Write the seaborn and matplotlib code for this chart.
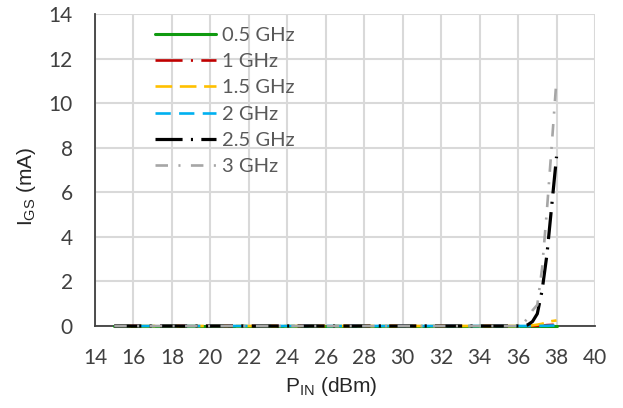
import matplotlib
matplotlib.use("Agg")
import matplotlib.pyplot as plt
from matplotlib.ticker import MultipleLocator
import seaborn as sns
import pandas as pd

# ---- data ----
pin = [15, 16, 17, 18, 19, 20, 21, 22, 23, 24, 25, 26, 27, 28, 29, 30,
       31, 32, 33, 34, 35, 36, 36.25, 36.5, 36.75, 37, 37.25, 37.5, 37.75, 38]
igs_05 = [0.0, 0.0, 0.0, 0.0, 0.0, 0.0, 0.0, 0.0, 0.0, 0.0, 0.0, 0.0, 0.0, 0.0, 0.0, 0.0,
          0.0, 0.0, 0.0, 0.0, 0.0, 0.0, 0.0, 0.0, 0.0, 0.0, 0.0, 0.0, 0.0, 0.0]
igs_1 = [0.0, 0.0, 0.0, 0.0, 0.0, 0.0, 0.0, 0.0, 0.0, 0.0, 0.0, 0.0, 0.0, 0.0, 0.0, 0.0,
         0.0, 0.0, 0.0, 0.0, 0.0, 0.0, 0.0, 0.0, 0.0, 0.01, 0.02, 0.04, 0.05, 0.06]
igs_15 = [0.0, 0.0, 0.0, 0.0, 0.0, 0.0, 0.0, 0.0, 0.0, 0.0, 0.0, 0.0, 0.0, 0.0, 0.0, 0.0,
          0.0, 0.0, 0.0, 0.0, 0.0, 0.0, 0.0, 0.01, 0.03, 0.06, 0.1, 0.17, 0.22, 0.25]
igs_2 = [0.0, 0.0, 0.0, 0.0, 0.0, 0.0, 0.0, 0.0, 0.0, 0.0, 0.0, 0.0, 0.0, 0.0, 0.0, 0.0,
         0.0, 0.0, 0.0, 0.0, 0.0, 0.0, 0.0, 0.0, 0.0, 0.0, 0.01, 0.01, 0.02, 0.02]
igs_25 = [0.0, 0.0, 0.0, 0.0, 0.0, 0.0, 0.0, 0.0, 0.0, 0.0, 0.0, 0.0, 0.0, 0.0, 0.0, 0.0,
          0.0, 0.0, 0.0, 0.0, 0.0, 0.0, 0.0, 0.05, 0.2, 0.55, 1.6, 3.2, 5.4, 7.6]
igs_3 = [0.0, 0.0, 0.0, 0.0, 0.0, 0.0, 0.0, 0.0, 0.0, 0.0, 0.0, 0.0, 0.0, 0.0, 0.0, 0.0,
         0.0, 0.0, 0.0, 0.0, 0.0, 0.0, 0.1, 0.35, 0.7, 0.95, 2.6, 5.2, 8.1, 11.1]
labels = ["0.5 GHz", "1 GHz", "1.5 GHz", "2 GHz", "2.5 GHz", "3 GHz"]
x_ticks = [14, 16, 18, 20, 22, 24, 26, 28, 30, 32, 34, 36, 38, 40]
y_ticks = [0, 2, 4, 6, 8, 10, 12, 14]

series = [igs_05, igs_1, igs_15, igs_2, igs_25, igs_3]
colors = ["#109a10", "#c00000", "#ffc000", "#00b0f0", "#000000", "#a6a6a6"]
styles = [
    "-",
    (0, (19.5, 6, 1.5, 6)),
    (0, (12, 5.5)),
    (0, (11, 6)),
    (0, (19.5, 6, 1.5, 6)),
    (0, (9, 7.5, 1.5, 7.5)),
]
widths = [2.2, 1.9, 1.9, 1.9, 2.3, 1.9]

sns.set_theme(style="white")
plt.rcParams["font.family"] = ["Lato", "DejaVu Sans"]
plt.rcParams["lines.scale_dashes"] = False
plt.rcParams["mathtext.fontset"] = "custom"
plt.rcParams["mathtext.rm"] = "Liberation Sans"
plt.rcParams["mathtext.it"] = "Liberation Sans"

fig = plt.figure(figsize=(6.23, 4.08), dpi=100)
ax = fig.add_axes([95 / 623, 1 - 326 / 408, 500 / 623, 312 / 408])

df = pd.DataFrame({"pin": pin})
for s, lab in zip(series, labels):
    df[lab] = s

for lab, c, ls, lw in zip(labels, colors, styles, widths):
    sns.lineplot(data=df, x="pin", y=lab, ax=ax, color=c, linestyle=ls,
                 linewidth=lw, label=lab, clip_on=False, zorder=3)

ax.set_xlim(14, 40)
ax.set_ylim(0, 14)
ax.set_xticks(x_ticks)
ax.set_yticks(y_ticks)
ax.xaxis.set_minor_locator(MultipleLocator(1))
ax.yaxis.set_minor_locator(MultipleLocator(0.4))
ax.grid(True, which="major", color="#d9d9d9", linewidth=1.5)
ax.set_axisbelow(True)

for sp in ["top", "right"]:
    ax.spines[sp].set_visible(False)
for sp in ["left", "bottom"]:
    ax.spines[sp].set_color("#404040")
    ax.spines[sp].set_linewidth(1.3)

ax.tick_params(axis="both", which="both", direction="in", color="#404040",
               width=1.0, labelsize=15, labelcolor="#404040")
ax.tick_params(axis="both", which="major", length=5)
ax.tick_params(axis="both", which="minor", length=4.5)
ax.tick_params(axis="x", which="major", pad=16)
ax.tick_params(axis="y", which="major", pad=16)
for t in ax.get_xticklabels() + ax.get_yticklabels():
    t.set_fontfamily(["Lato", "DejaVu Sans"])

ax.set_xlabel("")
ax.set_ylabel("")
fig.text(331 / 623, 1 - 387 / 408, r"P$_{\mathregular{IN}}$ (dBm)", ha="center", va="center",
         fontsize=15, color="#262626", family="Liberation Sans")
fig.text(27 / 623, 1 - 186 / 408, r"I$_{\mathregular{GS}}$ (mA)", ha="center", va="center",
         rotation=90, fontsize=15, color="#262626", family="Liberation Sans")

leg = ax.legend(loc="upper left", bbox_to_anchor=(155 / 623, 1 - 27 / 408),
                bbox_transform=fig.transFigure, frameon=False, fontsize=14.5,
                handlelength=3.03, handletextpad=0.28, labelspacing=0.45,
                borderpad=0, borderaxespad=0)
for t in leg.get_texts():
    t.set_color("#595959")

fig.savefig("out.png", dpi=100)
